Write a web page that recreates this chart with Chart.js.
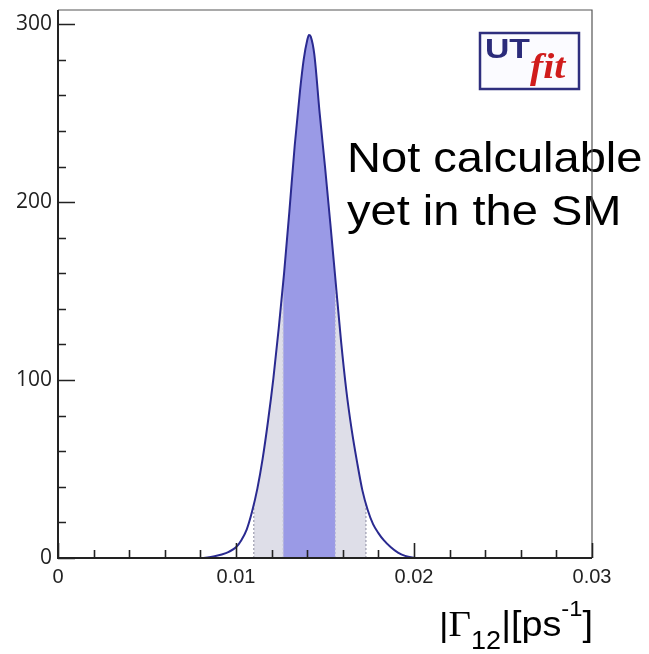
<!DOCTYPE html>
<html>
<head>
<meta charset="utf-8">
<script src="https://cdn.jsdelivr.net/npm/chart.js@4.4.0/dist/chart.umd.min.js"></script>
<style>
  html, body { margin: 0; padding: 0; background: #fff; }
  #wrap { width: 649px; height: 654px; }
</style>
</head>
<body>
<div id="wrap"><canvas id="grafico" width="649" height="654"></canvas></div>
<script>
const ctx = document.getElementById('grafico');

// |Gamma12| posterior
const gammaX = [0, 0.0080, 0.0084, 0.0088, 0.0092, 0.0096, 0.0100, 0.0103, 0.0106, 0.0109,
  0.0112, 0.0115, 0.0118, 0.0121, 0.0124, 0.0127, 0.0130, 0.0133, 0.0136, 0.0138,
  0.0140, 0.0141, 0.0142, 0.0144, 0.0147, 0.0150, 0.0153, 0.0156, 0.0159, 0.0162,
  0.0165, 0.0168, 0.0171, 0.0174, 0.0177, 0.0180, 0.0183, 0.0187, 0.0191, 0.0195,
  0.0199, 0.0203, 0.03];
const densidade = [0, 0, 0.3, 1, 2, 3.5, 6, 10, 16, 26,
  39, 56, 77, 101, 129, 160, 195, 232, 263, 280,
  291, 294, 293, 283, 250, 220, 188, 155, 122, 94,
  72, 54, 38, 27, 19, 14, 10, 6, 3, 1.2,
  0.3, 0, 0];

// 95% and 68% intervals (edges and curve height there)
const faixa95 = [0.0110, 0.0173];
const faixa95Alt = [30, 31];
const faixa68 = [0.01265, 0.01558];
const faixa68Alt = [155, 155];

const xTicks = [0, 0.01, 0.02, 0.03];
const xTickLabels = ['0', '0.01', '0.02', '0.03'];
const yTicks = [0, 100, 200, 300];
const yTickLabels = ['0', '100', '200', '300'];

const curva = gammaX.map((x, i) => ({ x: x, y: densidade[i] }));

function faixa(lim, alt) {
  const pts = [{ x: lim[0], y: alt[0] }];
  curva.forEach(p => { if (p.x > lim[0] && p.x < lim[1]) pts.push(p); });
  pts.push({ x: lim[1], y: alt[1] });
  return pts;
}

function borda(x, y, cor) {
  return {
    data: [{ x: x, y: 0 }, { x: x, y: y }],
    showLine: true, borderColor: cor, borderWidth: 1, borderDash: [2, 2],
    pointRadius: 0, fill: false, order: 1
  };
}

const moldura = {
  id: 'moldura',
  afterDatasetsDraw(chart) {
    const c = chart.ctx;
    // note text (goes under the frame line)
    c.save();
    c.fillStyle = '#000';
    c.font = '42px "Liberation Sans", Arial, sans-serif';
    c.textBaseline = 'alphabetic';
    c.translate(347, 0);
    c.scale(1.12, 1);
    c.fillText('Not calculable', 0, 172);
    c.fillText('yet in the SM', 0, 225);
    c.restore();
  },
  afterDraw(chart) {
    const c = chart.ctx;
    const xs = chart.scales.x, ys = chart.scales.y;
    const a = chart.chartArea;
    c.save();
    // frame
    c.strokeStyle = '#555';
    c.lineWidth = 1.2;
    c.beginPath();
    c.moveTo(a.left, a.top); c.lineTo(a.right, a.top); c.lineTo(a.right, a.bottom);
    c.stroke();
    c.strokeStyle = '#222';
    c.lineWidth = 2;
    c.beginPath();
    c.moveTo(a.left, a.top); c.lineTo(a.left, a.bottom); c.lineTo(a.right, a.bottom);
    c.stroke();
    // ticks, drawn inward
    c.lineWidth = 1.6;
    c.beginPath();
    for (let v = 0; v <= 300.5; v += 20) {
      const py = Math.round(ys.getPixelForValue(v)) + 0.5;
      const len = (Math.round(v) % 100 === 0) ? 17 : 8;
      c.moveTo(a.left, py); c.lineTo(a.left + len, py);
    }
    for (let k = 0; k <= 15; k++) {
      const px = Math.round(xs.getPixelForValue(k * 0.002)) + 0.5;
      const len = (k % 5 === 0) ? 15 : 8;
      c.moveTo(px, a.bottom); c.lineTo(px, a.bottom - len);
    }
    c.stroke();

    // UTfit logo
    c.fillStyle = '#fbfbff';
    c.fillRect(480, 33, 99, 56);
    c.strokeStyle = '#2e2e7e';
    c.lineWidth = 2.5;
    c.strokeRect(480, 33, 99, 56);
    c.save();
    c.translate(485, 58);
    c.scale(1.25, 1);
    c.fillStyle = '#2b2b7a';
    c.font = 'bold 27px "Liberation Sans", Arial, sans-serif';
    c.fillText('UT', 0, 0);
    c.restore();
    c.save();
    c.translate(530, 78);
    c.scale(1.1, 1);
    c.fillStyle = '#d01c1c';
    c.font = 'italic bold 36px "Liberation Serif", "Times New Roman", serif';
    c.fillText('fit', 0, 0);
    c.restore();

    // axis title |Gamma_12|[ps^-1]
    const partes = [
      { t: '|', f: '34px "Liberation Sans", Arial', dy: 0 },
      { t: '\u0393', f: '36px "Liberation Serif", serif', dy: 0 },
      { t: '12', f: '25px "Liberation Sans", Arial', dy: 13 },
      { t: '|[ps', f: '35px "Liberation Sans", Arial', dy: 0 },
      { t: '-1', f: '22px "Liberation Sans", Arial', dy: -20 },
      { t: ']', f: '35px "Liberation Sans", Arial', dy: 0 }
    ];
    let total = 0;
    partes.forEach(p => { c.font = p.f; p.w = c.measureText(p.t).width; total += p.w; });
    const esc = 1.08;
    c.translate(593 - total * esc, 636);
    c.scale(esc, 1);
    c.fillStyle = '#000';
    let px = 0;
    partes.forEach(p => { c.font = p.f; c.fillText(p.t, px, p.dy); px += p.w; });
    c.restore();
  }
};

new Chart(ctx, {
  type: 'scatter',
  data: {
    datasets: [
      {
        data: curva, showLine: true, borderColor: '#2a2a90', borderWidth: 2,
        pointRadius: 0, fill: false, cubicInterpolationMode: 'monotone', order: 0
      },
      borda(faixa95[0], faixa95Alt[0], '#8a8aa0'),
      borda(faixa95[1], faixa95Alt[1], '#8a8aa0'),
      borda(faixa68[0], faixa68Alt[0], '#b8b8d8'),
      borda(faixa68[1], faixa68Alt[1], '#b8b8d8'),
      {
        data: faixa(faixa68, faixa68Alt), showLine: true, borderWidth: 0,
        backgroundColor: '#9a9ae6', fill: 'origin', pointRadius: 0,
        cubicInterpolationMode: 'monotone', order: 2
      },
      {
        data: faixa(faixa95, faixa95Alt), showLine: true, borderWidth: 0,
        backgroundColor: '#dedee8', fill: 'origin', pointRadius: 0,
        cubicInterpolationMode: 'monotone', order: 3
      }
    ]
  },
  options: {
    responsive: false,
    animation: false,
    layout: { padding: { top: 10, right: 57, left: 0, bottom: 0 } },
    plugins: { legend: { display: false }, tooltip: { enabled: false } },
    scales: {
      x: {
        type: 'linear', min: 0, max: 0.03,
        grid: { display: false, drawTicks: false, tickLength: 0 },
        border: { display: false },
        afterBuildTicks: s => { s.ticks = xTicks.map(v => ({ value: v })); },
        afterFit: s => { s.height = 96; s.paddingLeft = 0; s.paddingRight = 0; },
        ticks: {
          maxRotation: 0, padding: 7, color: '#222',
          font: { family: '"Liberation Sans", Arial', size: 20 },
          callback: (v) => xTickLabels[xTicks.indexOf(v)]
        }
      },
      y: {
        type: 'linear', min: 0, max: 308,
        grid: { display: false, drawTicks: false, tickLength: 0 },
        border: { display: false },
        afterBuildTicks: s => { s.ticks = yTicks.map(v => ({ value: v })); },
        afterFit: s => { s.width = 58; s.paddingTop = 0; s.paddingBottom = 0; },
        ticks: {
          padding: 6, color: '#222',
          font: { family: '"Open Sans"', size: 21 },
          callback: (v) => yTickLabels[yTicks.indexOf(v)]
        }
      }
    }
  },
  plugins: [moldura]
});
</script>
</body>
</html>
